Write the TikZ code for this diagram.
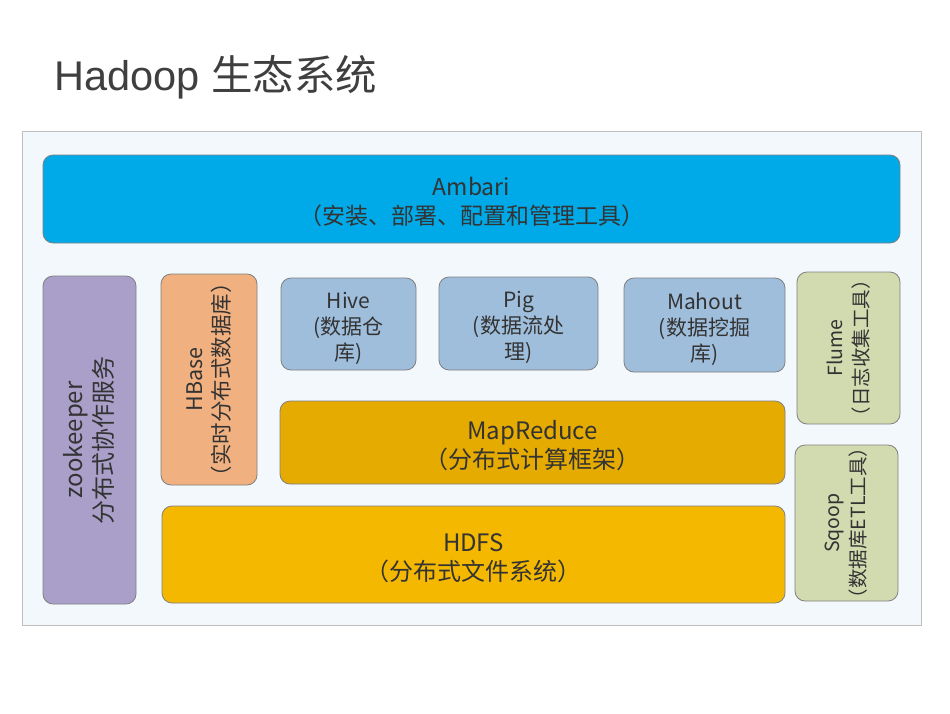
\documentclass[tikz,border=0pt]{standalone}
\usepackage{fontspec}
\setmainfont{Liberation Sans}
\newfontfamily\cjk{Noto Sans CJK SC}
\definecolor{framefill}{HTML}{F3F8FD}
\definecolor{frameline}{HTML}{BFBFBF}
\definecolor{ambari}{HTML}{00AAE8}
\definecolor{zoo}{HTML}{A99FC9}
\definecolor{hbase}{HTML}{F0B07F}
\definecolor{tool}{HTML}{9FBEDC}
\definecolor{green}{HTML}{D2DAAF}
\definecolor{mr}{HTML}{E5AB00}
\definecolor{hdfs}{HTML}{F5B800}
\definecolor{txt}{HTML}{333333}
\definecolor{titletxt}{HTML}{3F3F3F}
\begin{document}
\begin{tikzpicture}[x=1pt,y=-1pt,
  box/.style={draw=black!50, line width=0.8pt, rounded corners=10pt, inner sep=0pt},
  lbl/.style={text=txt, align=center, inner sep=0pt}]
\useasboundingbox (0,0) rectangle (950,713);
\fill[white] (0,0) rectangle (950,713);
\node[anchor=base west, inner sep=0pt, text=titletxt, font=\fontsize{41.5}{48}\selectfont] (title) at (54,90) {Hadoop {\cjk 生态系统}};
\node[draw=frameline, fill=framefill, line width=0.8pt, minimum width=899pt, minimum height=494pt, inner sep=0pt] (frame) at (471.5,378) {};
% Ambari
\node[box, fill=ambari, minimum width=857pt, minimum height=88pt] (ambari) at (471.5,199) {};
\node[lbl, font=\cjk\fontsize{23}{29}\selectfont] (ambaritxt) at ([yshift=-3pt]ambari.center) {Ambari\\（安装、部署、配置和管理工具）};
% zookeeper
\node[box, fill=zoo, minimum width=93pt, minimum height=328pt] (zoo) at (89.5,440) {};
\node[lbl, font=\cjk\fontsize{24}{30}\selectfont, rotate=90] (zootxt) at ([xshift=-1pt]zoo.center) {zookeeper\\分布式协作服务};
% HBase
\node[box, fill=hbase, minimum width=96pt, minimum height=211pt] (hbase) at (209,379.5) {};
\node[lbl, font=\cjk\fontsize{21.5}{27}\selectfont, rotate=90] (hbasetxt) at (hbase) {HBase\\（实时分布式数据库）};
% Hive, Pig, Mahout
\node[box, fill=tool, minimum width=135pt, minimum height=92pt] (hive) at (348.5,324) {};
\node[lbl, font=\cjk\fontsize{21}{26}\selectfont] (hivetxt) at ([yshift=-4pt]hive.center) {Hive\\(数据仓\\库)};
\node[box, fill=tool, minimum width=159pt, minimum height=93pt] (pig) at (518.5,323.5) {};
\node[lbl, font=\cjk\fontsize{21}{26}\selectfont] (pigtxt) at ([yshift=-4pt]pig.center) {Pig\\(数据流处\\理)};
\node[box, fill=tool, minimum width=161pt, minimum height=94pt] (mahout) at (704.5,325) {};
\node[lbl, font=\cjk\fontsize{21}{26}\selectfont] (mahouttxt) at ([yshift=-4pt]mahout.center) {Mahout\\(数据挖掘\\库)};
% Flume, Sqoop
\node[box, fill=green, minimum width=103pt, minimum height=152pt] (flume) at (848.5,348) {};
\node[lbl, font=\cjk\fontsize{19.5}{26}\selectfont, rotate=90] (flumetxt) at (flume) {Flume\\（日志收集工具）};
\node[box, fill=green, minimum width=103pt, minimum height=156pt] (sqoop) at (846.5,523) {};
\node[lbl, font=\cjk\fontsize{19.5}{26}\selectfont, rotate=90] (sqooptxt) at (sqoop) {Sqoop\\（数据库ETL工具）};
% MapReduce, HDFS
\node[box, fill=mr, minimum width=505pt, minimum height=83pt] (mr) at (532.5,442.5) {};
\node[lbl, font=\cjk\fontsize{24}{29}\selectfont] (mrtxt) at ([yshift=-3pt]mr.center) {MapReduce\\（分布式计算框架）};
\node[box, fill=hdfs, minimum width=623pt, minimum height=97pt] (hdfs) at (473.5,554.5) {};
\node[lbl, font=\cjk\fontsize{24}{29}\selectfont] (hdfstxt) at ([yshift=-4pt]hdfs.center) {HDFS\\（分布式文件系统）};
\end{tikzpicture}
\end{document}
